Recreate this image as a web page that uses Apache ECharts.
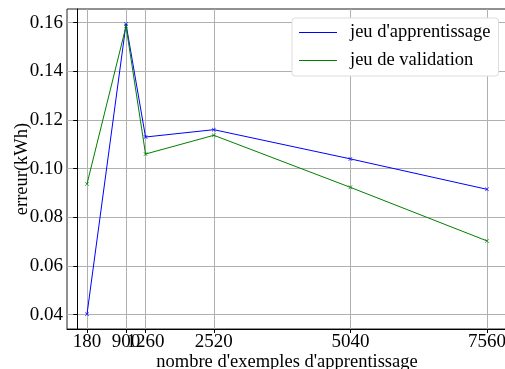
<!DOCTYPE html>
<html>
<head>
<meta charset="utf-8">
<script src="https://cdn.jsdelivr.net/npm/echarts@6/dist/echarts.min.js"></script>
<style>html,body{margin:0;padding:0;background:#fff}#c{width:505px;height:369px}</style>
</head>
<body>
<div id="c"></div>
<script>
const sizes = [180, 900, 1260, 2520, 5040, 7560];
const trainErr = [0.0402, 0.1594, 0.1130, 0.1160, 0.1040, 0.0915];
const validErr = [0.0937, 0.1585, 0.1060, 0.1137, 0.0923, 0.0703];
const yTicks = [0.04, 0.06, 0.08, 0.10, 0.12, 0.14, 0.16];
const seriesNames = ["jeu d'apprentissage", "jeu de validation"];

const FONT = 'Liberation Serif';
const FS = 19;
const FS2 = 18.5;
const xMark = 'path://M0,1L1,0L5,4L9,0L10,1L6,5L10,9L9,10L5,6L1,10L0,9L4,5Z';

const chart = echarts.init(document.getElementById('c'), null, {renderer: 'canvas'});
chart.setOption({
  backgroundColor: '#fff',
  animation: false,
  grid: {left: 67, top: 9, width: 440, height: 320, outerBoundsMode: 'none', containLabel: false,
    show: true, borderColor: '#222', borderWidth: 1, backgroundColor: 'transparent'},
  legend: {
    orient: 'vertical', left: 292, top: 18,
    padding: [5, 8, 6, 7],
    itemWidth: 38, itemHeight: 14, itemGap: 9,
    backgroundColor: '#fff', borderColor: '#ddd', borderWidth: 1, borderRadius: 3,
    textStyle: {fontFamily: FONT, fontSize: FS2, color: '#000', padding: [0, 0, 0, 8]},
    data: [
      {name: seriesNames[0], icon: 'path://M0,6.5L38,6.5L38,7.5L0,7.5Z'},
      {name: seriesNames[1], icon: 'path://M0,6.5L38,6.5L38,7.5L0,7.5Z'}
    ]
  },
  xAxis: {
    type: 'value', min: -189, max: 7929,
    name: "nombre d'exemples d'apprentissage", nameLocation: 'middle', nameGap: 24, nameMoveOverlap: false,
    nameTextStyle: {fontFamily: FONT, fontSize: FS2, color: '#000'},
    axisLine: {show: true, lineStyle: {color: '#000', width: 1}},
    axisTick: {show: true, length: 4, customValues: sizes, lineStyle: {color: '#000'}},
    axisLabel: {customValues: sizes, margin: 4, fontFamily: FONT, fontSize: FS, color: '#000', hideOverlap: false,
      formatter: v => String(v)},
    splitLine: {show: true, lineStyle: {color: '#b0b0b0', width: 1}}
  },
  yAxis: {
    type: 'value', min: 0.0341, max: 0.1656,
    name: 'erreur(kWh)', nameLocation: 'middle', nameGap: 35, nameRotate: 90, nameMoveOverlap: false,
    nameTextStyle: {fontFamily: FONT, fontSize: FS2, color: '#000'},
    axisLine: {show: true, lineStyle: {color: '#000', width: 1}},
    axisTick: {show: true, length: 4, customValues: yTicks, lineStyle: {color: '#000'}},
    axisLabel: {customValues: yTicks, margin: 4, fontFamily: FONT, fontSize: FS, color: '#000',
      formatter: v => v.toFixed(2)},
    splitLine: {show: true, lineStyle: {color: '#b0b0b0', width: 1}}
  },
  series: [
    {name: seriesNames[0], type: 'line', data: sizes.map((s, i) => [s, trainErr[i]]),
     color: '#0000ff', lineStyle: {width: 1, color: '#0000ff'},
     symbol: xMark, symbolSize: 4, itemStyle: {color: '#0000ff'}, showAllSymbol: true},
    {name: seriesNames[1], type: 'line', data: sizes.map((s, i) => [s, validErr[i]]),
     color: '#008000', lineStyle: {width: 1, color: '#008000'},
     symbol: xMark, symbolSize: 4, itemStyle: {color: '#008000'}, showAllSymbol: true}
  ]
});
</script>
</body>
</html>
